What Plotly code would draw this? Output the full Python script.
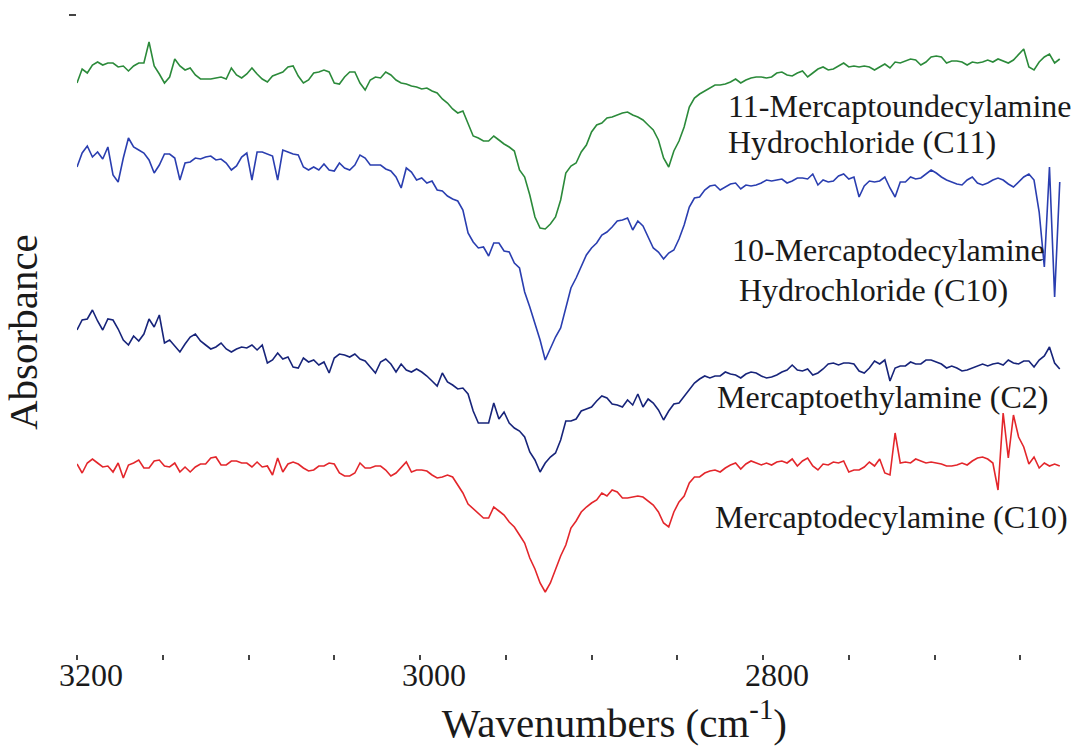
import numpy as np
import plotly.graph_objects as go

# FTIR spectra in the C-H stretching region, stacked with vertical offsets.
# Absorbance values in mAU (offset included), sampled every 3 cm-1 from 3200 cm-1 down.
STEP = 3.0
START = 3200.0

c11_hcl = [
    571, 585, 581, 589, 592, 589, 591, 591, 587, 588, 583, 588, 591, 591, 612, 588, 580, 571, 577, 595,
    588, 584, 586, 579, 575, 575, 575, 576, 577, 575, 586, 579, 576, 580, 586, 580, 575, 572, 578, 580,
    582, 587, 588, 578, 571, 574, 581, 582, 584, 582, 571, 570, 577, 582, 582, 571, 564, 574, 577, 576,
    582, 579, 574,
    571, 570, 568, 567, 565, 566, 563, 561, 555, 551, 545, 541, 543, 530, 518, 516, 513, 513, 518, 514,
    510, 507, 503, 484, 477, 459, 437, 426, 425, 430, 437, 454, 481, 488, 491, 502, 509, 522, 529, 531,
    536, 537, 539, 541, 542, 539, 537, 534, 529, 524, 514, 496, 487, 503, 513, 527, 547, 556, 560, 563,
    566, 569, 569, 570, 572, 575,
    571, 574, 576, 577, 577, 576, 577, 581, 582, 579, 578, 581, 583, 577, 581, 585, 587, 584, 585, 588,
    591, 587, 588, 587, 588, 587, 584, 587, 590, 586, 592, 591, 593, 595, 594, 589, 592, 597, 598, 597,
    591, 593, 593, 592, 589, 592, 591, 592, 594, 592, 595, 593, 591, 594, 599, 605, 587, 584, 592, 597,
    600, 591, 595,
]

c10_hcl = [
    487, 501, 508, 497, 502, 495, 507, 479, 472, 496, 516, 507, 504, 501, 494, 481, 489, 500, 500, 496,
    474, 491, 492, 496, 495, 497, 498, 494, 495, 491, 484, 488, 497, 501, 474, 502, 502, 500, 498, 474,
    504, 502, 500, 499, 487, 484, 487, 484, 490, 484, 483, 491, 486, 484, 489, 499, 496, 489, 489, 489,
    485, 483, 477,
    466, 486, 482, 474, 476, 471, 473, 464, 463, 458, 455, 453, 444, 421, 412, 406, 407, 398, 411, 411,
    403, 402, 391, 386, 362, 347, 331, 314, 294, 306, 317, 326, 347, 366, 376, 387, 399, 406, 411, 419,
    422, 427, 433, 434, 436, 424, 433, 428, 417, 406, 402, 395, 401, 404, 415, 429, 447, 456, 457, 464,
    468, 469, 464, 467, 470, 471,
    465, 469, 468, 469, 471, 474, 473, 474, 475, 471, 473, 476, 476, 475, 480, 469, 474, 472, 473, 478,
    480, 475, 477, 457, 468, 473, 472, 473, 477, 466, 457, 472, 472, 477, 475, 476, 480, 484, 481, 477,
    474, 472, 470, 469, 474, 477, 471, 469, 471, 474, 476, 474, 470, 467, 472, 477, 480, 474, 442, 387,
    487, 357, 472,
]

c2 = [
    324, 334, 335, 344, 333, 324, 335, 334, 325, 314, 309, 318, 313, 320, 335, 327, 339, 311, 314, 308,
    302, 310, 317, 320, 313, 309, 305, 307, 311, 305, 302, 305, 307, 306, 309, 304, 309, 291, 294, 301,
    295, 297, 287, 286, 296, 292, 294, 289, 292, 281, 296, 300, 299, 297, 300, 295, 293, 287, 281, 292,
    295, 290, 282,
    290, 284, 282, 285, 282, 278, 273, 268, 281, 272, 269, 265, 266, 260, 243, 231, 231, 231, 251, 235,
    242, 231, 226, 223, 217, 202, 194, 182, 191, 197, 201, 214, 233, 233, 235, 243, 245, 247, 253, 258,
    256, 250, 249, 247, 254, 249, 260, 247, 255, 251, 244, 234, 243, 250, 251, 258, 265, 271, 275, 278,
    276, 278, 278, 282, 280, 279,
    276, 280, 282, 281, 278, 276, 277, 279, 282, 284, 289, 284, 283, 285, 279, 281, 285, 290, 291, 289,
    291, 291, 290, 283, 281, 286, 293, 290, 294, 273, 286, 288, 288, 292, 290, 290, 294, 294, 292, 290,
    286, 288, 286, 283, 284, 286, 288, 290, 288, 290, 291, 289, 294, 291, 290, 293, 293, 287, 294, 298,
    307, 291, 285,
]

c10 = [
    190, 181, 191, 195, 191, 187, 188, 182, 191, 176, 189, 191, 194, 186, 186, 193, 194, 188, 187, 191,
    182, 187, 182, 187, 190, 190, 196, 197, 189, 189, 193, 193, 191, 191, 187, 192, 187, 188, 179, 196,
    182, 190, 192, 190, 186, 183, 184, 188, 188, 191, 190, 181, 178, 178, 181, 191, 186, 186, 188, 188,
    184, 178, 181,
    186, 192, 182, 184, 184, 183, 179, 176, 177, 179, 177, 169, 161, 150, 145, 140, 136, 136, 147, 143,
    139, 132, 127, 119, 111, 96, 85, 71, 62, 71, 85, 98, 109, 126, 133, 142, 147, 151, 154, 161,
    158, 164, 162, 156, 156, 157, 158, 157, 153, 149, 142, 131, 127, 142, 152, 158, 171, 177, 177, 181,
    183, 184, 182, 186, 189, 191,
    185, 190, 193, 191, 189, 191, 189, 192, 193, 191, 195, 188, 193, 196, 188, 184, 190, 189, 192, 191,
    193, 182, 184, 184, 187, 192, 188, 195, 181, 179, 221, 191, 192, 191, 195, 193, 191, 192, 191, 190,
    188, 188, 189, 191, 189, 193, 196, 197, 195, 191, 164, 241, 196, 239, 217, 207, 190, 197, 186, 191,
    188, 190, 188,
]

series = [
    ("11-Mercaptoundecylamine Hydrochloride (C11)", c11_hcl, "#2b8a3a"),
    ("10-Mercaptodecylamine Hydrochloride (C10)", c10_hcl, "#2a3eb0"),
    ("Mercaptoethylamine (C2)", c2, "#17247a"),
    ("Mercaptodecylamine (C10)", c10, "#e3262b"),
]

tick_vals = [3200, 3150, 3100, 3050, 3000, 2950, 2900, 2850, 2800, 2750, 2700, 2650]
tick_text = ["3200", " ", " ", " ", "3000", " ", " ", " ", "2800", " ", " ", " "]

labels = [
    ("11-Mercaptoundecylamine", 2821.5, 0.548),
    ("Hydrochloride (C11)", 2821.5, 0.512),
    ("10-Mercaptodecylamine", 2819.0, 0.404),
    ("Hydrochloride (C10)", 2815.0, 0.364),
    ("Mercaptoethylamine (C2)", 2828.0, 0.257),
    ("Mercaptodecylamine (C10)", 2829.0, 0.137),
]

SERIF = "Liberation Serif"
PAD = "&nbsp;"

fig = go.Figure()
for name, vals, color in series:
    y = np.asarray(vals, dtype=float) / 1000.0
    x = START - STEP * np.arange(len(y))
    fig.add_trace(go.Scatter(
        x=x, y=y, mode="lines", name=name,
        line=dict(color=color, width=1.6),
        hoverinfo="skip",
    ))

for text, xv, yv in labels:
    fig.add_annotation(
        x=xv, y=yv, xref="x", yref="y", text=text, showarrow=False,
        xanchor="left", yanchor="middle",
        font=dict(family=SERIF, size=32, color="#1a1a1a"),
    )

fig.update_layout(
    width=1080, height=753,
    margin=dict(l=77, r=0, t=0, b=99),
    paper_bgcolor="white", plot_bgcolor="white",
    showlegend=False,
    font=dict(family=SERIF, color="#1a1a1a"),
)

fig.update_xaxes(
    range=[3200, 2615.2],
    tickmode="array", tickvals=tick_vals, ticktext=tick_text,
    ticks="outside", ticklen=5, tickwidth=2, tickcolor="#444",
    tickfont=dict(family=SERIF, size=32, color="#1a1a1a"),
    ticklabelshift=-14, ticklabelstandoff=-12,
    showline=False, showgrid=False, zeroline=False,
    title=dict(text=PAD * 7 + "Wavenumbers (cm<sup>-1</sup>)",
               font=dict(family=SERIF, size=41, color="#1a1a1a"), standoff=4),
    automargin=False,
)

fig.update_yaxes(
    range=[0, 0.654],
    tickmode="array", tickvals=[0.639], ticktext=[" "],
    ticks="outside", ticklen=7, tickwidth=2, tickcolor="#444",
    showticklabels=False,
    showline=False, showgrid=False, zeroline=False,
    title=dict(text="Absorbance" + PAD,
               font=dict(family=SERIF, size=41, color="#1a1a1a"), standoff=23),
    automargin=False,
)

fig.write_html("out.html")
